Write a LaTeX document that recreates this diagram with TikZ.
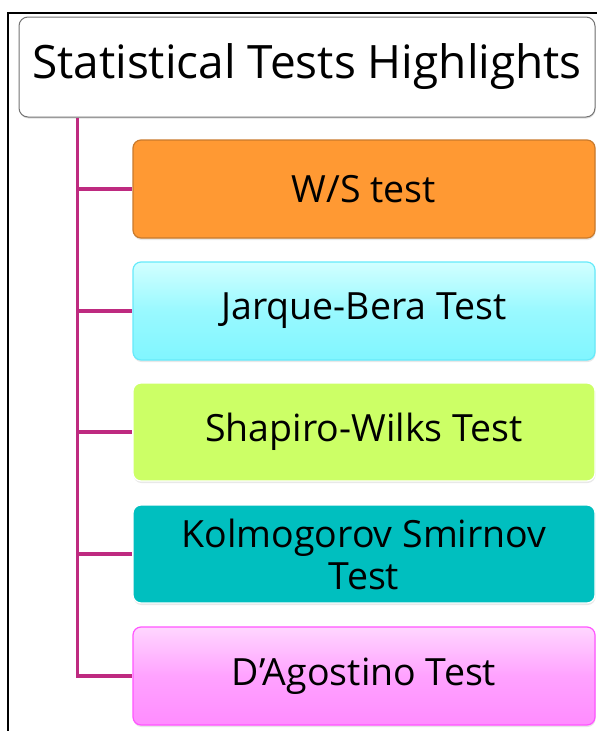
\documentclass[tikz,border=0pt]{standalone}
\usepackage{fontspec}
\setmainfont{Open Sans}
\usetikzlibrary{shadows}

\definecolor{branchcol}{HTML}{BE2A80}
\definecolor{wsfill}{HTML}{FF9933}
\definecolor{wsline}{HTML}{C97A2C}
\definecolor{jbtop}{HTML}{D2FFFF}
\definecolor{jbfill}{HTML}{80F6FF}
\definecolor{jbline}{HTML}{66EAFA}
\definecolor{swfill}{HTML}{CCFF66}
\definecolor{ksfill}{HTML}{00BFBF}
\definecolor{datop}{HTML}{FFD6FF}
\definecolor{dafill}{HTML}{FF8CFF}
\definecolor{daline}{HTML}{FF55FF}

\tikzset{
  headbox/.style={draw=gray!90!black, fill=white, rounded corners=9pt, line width=1pt,
    minimum width=576pt, minimum height=100pt, inner sep=0pt,
    font=\fontsize{46}{52}\selectfont,
    drop shadow={opacity=0.25, shadow xshift=0.5pt, shadow yshift=-1.5pt}},
  testbox/.style={rounded corners=8pt, line width=1.2pt,
    minimum width=462pt, minimum height=98pt, inner sep=0pt, align=center,
    font=\fontsize{37.5}{42}\selectfont,
    drop shadow={opacity=0.18, shadow xshift=0.5pt, shadow yshift=-2pt}},
  branch/.style={draw=branchcol, line width=3.2pt}
}

\begin{document}
\begin{tikzpicture}[x=1pt,y=-1pt]
  \useasboundingbox (0,0) rectangle (597,731);
  \draw [line width=2pt] (8,731) -- (8,13) -- (597,13); % frame

  \node [headbox] (head) at (307,67) {\raisebox{-2pt}{Statistical Tests Highlights}};

  \node [testbox, draw=wsline, fill=wsfill] (ws) at (364,189) {W/S test};
  \node [testbox, draw=jbline, top color=jbtop, bottom color=jbfill, middle color=jbfill!70!jbtop] (jb) at (364,311) {Jarque-Bera Test};
  \node [testbox, draw=white, fill=swfill] (sw) at (364,432) {Shapiro-Wilks Test};
  \node [testbox, draw=white, fill=ksfill] (ks) at (364,554) {Kolmogorov Smirnov\\Test};
  \node [testbox, draw=daline, top color=datop, bottom color=dafill, middle color=dafill!70!datop] (da) at (364,676) {D’Agostino Test};

  % tree lines
  \coordinate (trunk) at ([xshift=59pt]head.south west);
  \draw [branch] (trunk) |- (da.west);
  \draw [branch] (trunk |- ws.west) -- (ws.west);
  \draw [branch] (trunk |- jb.west) -- (jb.west);
  \draw [branch] (trunk |- sw.west) -- (sw.west);
  \draw [branch] (trunk |- ks.west) -- (ks.west);
\end{tikzpicture}
\end{document}
